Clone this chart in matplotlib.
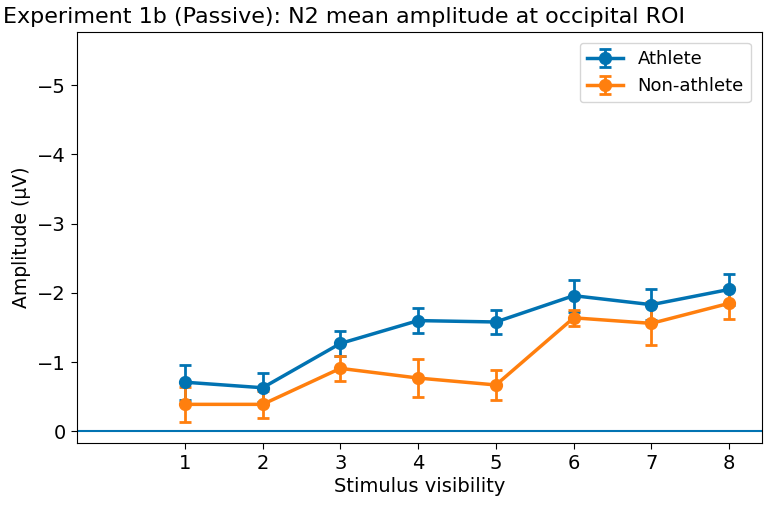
import numpy as np
import matplotlib.pyplot as plt

# Stimulus visibility levels
visibility = [1, 2, 3, 4, 5, 6, 7, 8]

# N2 mean amplitude (µV) and error bars
athlete_mean = [-0.71, -0.63, -1.27, -1.60, -1.58, -1.96, -1.83, -2.05]
athlete_err = [0.25, 0.21, 0.18, 0.18, 0.17, 0.23, 0.22, 0.22]
nonathlete_mean = [-0.39, -0.39, -0.91, -0.77, -0.67, -1.64, -1.56, -1.85]
nonathlete_err = [0.25, 0.19, 0.18, 0.27, 0.22, 0.12, 0.31, 0.23]

fig = plt.figure(figsize=(7.68, 5.07), dpi=100)
ax = fig.add_axes([0.100, 0.126, 0.892, 0.811])

ax.errorbar(visibility, athlete_mean, yerr=athlete_err, color="#0173B2",
            marker="o", markersize=8.5, linewidth=2.5, capsize=4, capthick=2,
            elinewidth=2, label="Athlete")
ax.errorbar(visibility, nonathlete_mean, yerr=nonathlete_err, color="#FF7F0E",
            marker="o", markersize=8.5, linewidth=2.5, capsize=4, capthick=2,
            elinewidth=2, label="Non-athlete")
ax.axhline(0, color="#0173B2", linewidth=1.5)

ax.set_xlim(-0.39, 8.42)
ax.set_ylim(0.17, -5.77)
ax.set_xticks(visibility)
ax.set_yticks([0, -1, -2, -3, -4, -5])
ax.tick_params(labelsize=14, length=4.5)

fig.text(3 / 768, 1 - 23 / 507, "Experiment 1b (Passive): N2 mean amplitude at occipital ROI",
         fontsize=16, ha="left", va="baseline")
ax.set_xlabel("Stimulus visibility", fontsize=14, labelpad=3)
ax.set_ylabel("Amplitude (µV)", fontsize=13.5)
ax.legend(loc="upper right", fontsize=13, borderaxespad=0.6)

fig.savefig("out.png", dpi=100)
